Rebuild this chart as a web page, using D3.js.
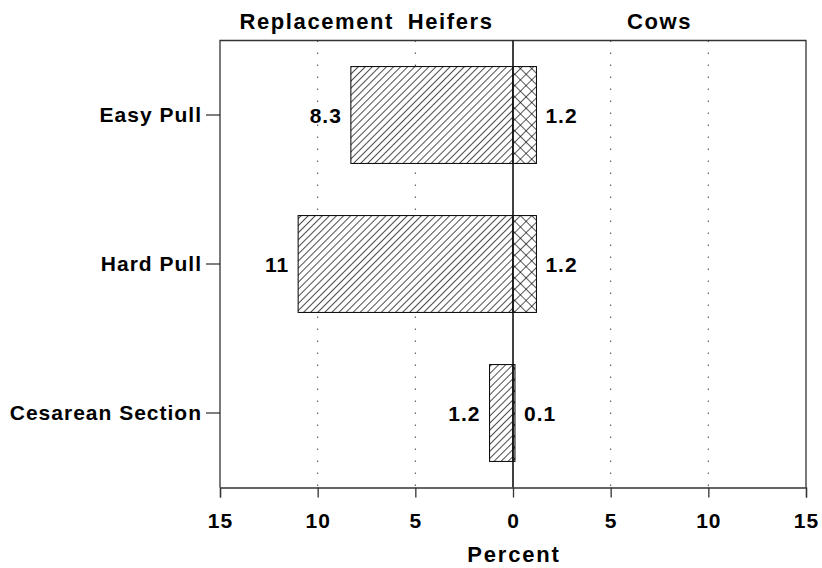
<!DOCTYPE html>
<html>
<head>
<meta charset="utf-8">
<script src="https://cdn.jsdelivr.net/npm/d3@7"></script>
<style>
  body { margin: 0; background: #fff; }
  text { font-family: "Liberation Sans", Arial, sans-serif; font-weight: bold; fill: #000; letter-spacing: 1px; }
</style>
</head>
<body>
<svg id="chart" width="822" height="568"></svg>
<script>

var categories = ["Easy Pull", "Hard Pull", "Cesarean Section"];
var heifers = [8.3, 11, 1.2];
var cows = [1.2, 1.2, 0.1];
var tickValues = [-15, -10, -5, 0, 5, 10, 15];
var gridValues = [-10, -5, 5, 10];

var svg = d3.select("#chart");
var plotLeft = 220, plotRight = 806, plotTop = 40.5, plotBottom = 487.5;
var fs = 21;

var x = d3.scaleLinear().domain([-15, 15]).range([plotLeft, plotRight]);
var y = d3.scaleBand().domain(categories).range([plotTop, plotBottom]).paddingInner(0.35).paddingOuter(0.175);

// patterns
var defs = svg.append("defs");
var diag = defs.append("pattern")
	.attr("id", "diag")
	.attr("patternUnits", "userSpaceOnUse")
	.attr("width", 5).attr("height", 5)
	.attr("patternTransform", "rotate(45)");
diag.append("rect").attr("width", 5).attr("height", 5).attr("fill", "#fff");
diag.append("line").attr("x1", 0).attr("y1", 0).attr("x2", 0).attr("y2", 5)
	.attr("stroke", "#000").attr("stroke-width", 1.4);

var cross = defs.append("pattern")
	.attr("id", "cross")
	.attr("patternUnits", "userSpaceOnUse")
	.attr("width", 8).attr("height", 8)
	.attr("patternTransform", "rotate(45)");
cross.append("rect").attr("width", 8).attr("height", 8).attr("fill", "#fff");
cross.append("line").attr("x1", 0).attr("y1", 0).attr("x2", 0).attr("y2", 8)
	.attr("stroke", "#000").attr("stroke-width", 1.3);
cross.append("line").attr("x1", 0).attr("y1", 0).attr("x2", 8).attr("y2", 0)
	.attr("stroke", "#000").attr("stroke-width", 1.3);

// dotted grid
svg.selectAll("line.grid")
	.data(gridValues)
	.enter().append("line")
	.attr("class", "grid")
	.attr("x1", function(d) { return x(d); })
	.attr("x2", function(d) { return x(d); })
	.attr("y1", plotTop)
	.attr("y2", plotBottom)
	.attr("stroke", "#444")
	.attr("stroke-width", 1)
	.attr("stroke-dasharray", "1.5,10.5");

// heifer bars (left)
svg.selectAll("rect.heif")
	.data(heifers)
	.enter().append("rect")
	.attr("class", "heif")
	.attr("x", function(d) { return x(-d); })
	.attr("width", function(d) { return x(0) - x(-d); })
	.attr("y", function(d, i) { return y(categories[i]); })
	.attr("height", y.bandwidth())
	.attr("fill", "url(#diag)")
	.attr("stroke", "#000")
	.attr("stroke-width", 1);

// cow bars (right)
svg.selectAll("rect.cow")
	.data(cows)
	.enter().append("rect")
	.attr("class", "cow")
	.attr("x", x(0))
	.attr("width", function(d) { return x(d) - x(0); })
	.attr("y", function(d, i) { return y(categories[i]); })
	.attr("height", y.bandwidth())
	.attr("fill", "url(#cross)")
	.attr("stroke", "#000")
	.attr("stroke-width", 1);

// value labels
svg.selectAll("text.hl")
	.data(heifers)
	.enter().append("text")
	.attr("class", "hl")
	.attr("x", function(d) { return x(-d) - 9; })
	.attr("y", function(d, i) { return y(categories[i]) + y.bandwidth() / 2; })
	.attr("dy", "0.36em")
	.attr("text-anchor", "end")
	.attr("font-size", fs)
	.text(function(d) { return d; });

svg.selectAll("text.cl")
	.data(cows)
	.enter().append("text")
	.attr("class", "cl")
	.attr("x", function(d) { return x(d) + 9; })
	.attr("y", function(d, i) { return y(categories[i]) + y.bandwidth() / 2; })
	.attr("dy", "0.36em")
	.attr("text-anchor", "start")
	.attr("font-size", fs)
	.text(function(d) { return d; });

// frame
svg.append("path")
	.attr("d", "M" + plotLeft + "," + plotBottom + "V" + plotTop + "H" + plotRight + "V" + plotBottom)
	.attr("fill", "none")
	.attr("stroke", "#333")
	.attr("stroke-width", 1.3);

// zero line
svg.append("line")
	.attr("x1", x(0)).attr("x2", x(0))
	.attr("y1", plotTop).attr("y2", plotBottom)
	.attr("stroke", "#111")
	.attr("stroke-width", 1.6);

// x axis
var xAxis = d3.axisBottom(x)
	.tickValues(tickValues)
	.tickSize(10)
	.tickPadding(16)
	.tickFormat(function(d) { return Math.abs(d); });

var gx = svg.append("g")
	.attr("transform", "translate(0," + plotBottom + ")")
	.call(xAxis);
gx.select(".domain").attr("stroke", "#333").attr("stroke-width", 1.3);
gx.selectAll(".tick line").attr("stroke", "#333").attr("stroke-width", 1.3);
gx.selectAll(".tick text").attr("font-size", fs).attr("font-family", null);

svg.append("text")
	.attr("x", x(0) + 1)
	.attr("y", 562)
	.attr("text-anchor", "middle")
	.attr("font-size", 22)
	.style("letter-spacing", "1.8px")
	.text("Percent");

// y axis
var yAxis = d3.axisLeft(y).tickSize(14).tickPadding(4);
var gy = svg.append("g")
	.attr("transform", "translate(" + plotLeft + ",0)")
	.call(yAxis);
gy.select(".domain").remove();
gy.selectAll(".tick line").attr("stroke", "#000").attr("stroke-width", 1);
gy.selectAll(".tick text").attr("font-size", fs).attr("font-family", null);

// headers
svg.append("text")
	.attr("x", (x(-15) + x(0)) / 2)
	.attr("y", 29)
	.attr("text-anchor", "middle")
	.attr("font-size", 22)
	.attr("word-spacing", 6)
	.style("letter-spacing", "1.6px")
	.text("Replacement Heifers");

svg.append("text")
	.attr("x", (x(0) + x(15)) / 2)
	.attr("y", 29)
	.attr("text-anchor", "middle")
	.attr("font-size", 22)
	.style("letter-spacing", "1.6px")
	.text("Cows");

</script>
</body>
</html>
